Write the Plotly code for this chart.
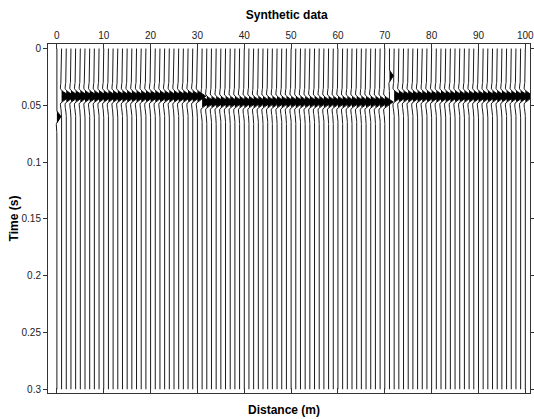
import numpy as np
import plotly.graph_objects as go

# ---- data ----
distances = list(range(0, 101))              # trace positions (m)
# arrival time (s) and relative amplitude of the event on each trace, by groups
group_first = [0, 1, 31, 71, 72]
group_last = [0, 30, 70, 71, 100]
group_time = [0.060, 0.042, 0.047, 0.024, 0.042]
group_amp = [0.5, 1.0, 1.0, 0.47, 1.0]
# wavelet samples (1 ms step, offsets -14..14 ms)
wavelet_offset_ms = list(range(-14, 15))
wavelet_amp = [-0.02, -0.04, -0.06, -0.09, -0.12, -0.14, -0.15, -0.14, -0.10, 0.00,
               0.20, 0.40, 0.60, 0.80, 1.00, 0.80, 0.60, 0.40, 0.20,
               0.00, -0.10, -0.14, -0.15, -0.14, -0.12, -0.09, -0.06, -0.04, -0.02]
x_ticks = [0, 10, 20, 30, 40, 50, 60, 70, 80, 90, 100]
y_ticks = [0, 0.05, 0.1, 0.15, 0.2, 0.25, 0.3]

dt_ms = 1
n_samples = 301
t = np.arange(n_samples) * dt_ms / 1000.0
gain = 1.8  # trace spacing units per unit amplitude

wx, wy, fx, fy = [], [], [], []
for g in range(len(group_first)):
    for i in range(group_first[g], group_last[g] + 1):
        d = distances[i]
        a = np.zeros(n_samples)
        c = int(round(group_time[g] * 1000 / dt_ms))
        for off, w in zip(wavelet_offset_ms, wavelet_amp):
            k = c + off
            if 0 <= k < n_samples:
                a[k] += group_amp[g] * w
        x = d + gain * a
        wx += list(x) + [None]
        wy += list(t) + [None]
        pos = d + gain * np.maximum(a, 0)
        fx += list(pos) + [d] * n_samples + [None]
        fy += list(t) + list(t[::-1]) + [None]

fig = go.Figure()
fig.add_trace(go.Scatter(x=fx, y=fy, mode="lines", fill="toself",
                         fillcolor="black", line=dict(width=0, color="black"),
                         hoverinfo="skip", showlegend=False))
fig.add_trace(go.Scatter(x=wx, y=wy, mode="lines",
                         line=dict(width=0.9, color="black"),
                         hoverinfo="skip", showlegend=False))

font = "Liberation Sans, Arial, sans-serif"
fig.update_layout(
    width=534, height=419,
    margin=dict(l=48, r=4, t=44, b=26),
    paper_bgcolor="white", plot_bgcolor="white",
    font=dict(family=font, size=10, color="#222"),
    title=dict(text="<b>Synthetic data</b>", x=0.537, xanchor="center",
               y=0.964, yanchor="middle", font=dict(size=12, color="black")),
    xaxis=dict(side="top", range=[-1.9, 101.0], tickvals=x_ticks,
               ticks="inside", ticklen=5, tickcolor="#333",
               showline=True, linecolor="#333", linewidth=1, mirror="ticks",
               showgrid=False, zeroline=False, automargin=False,
               ticklabeloverflow="allow"),
    yaxis=dict(range=[0.3033, -0.004], tickvals=y_ticks,
               ticktext=["0", "0.05", "0.1", "0.15", "0.2", "0.25", "0.3"],
               ticks="outside", ticklen=4, tickcolor="#333",
               showline=True, linecolor="#333", linewidth=1, mirror="ticks",
               showgrid=False, zeroline=False, automargin=False,
               title=dict(text="<b>Time (s)</b>", font=dict(size=12, color="black"),
                          standoff=0)),
    annotations=[dict(text="<b>Distance (m)</b>", xref="paper", yref="paper",
                      x=0.49, y=-0.0487, xanchor="center", yanchor="middle",
                      showarrow=False, font=dict(size=12, color="black"))],
)

fig.write_html("out.html", config={"displayModeBar": False},
               post_script="document.body.style.margin='0';document.body.style.overflow='hidden';")
